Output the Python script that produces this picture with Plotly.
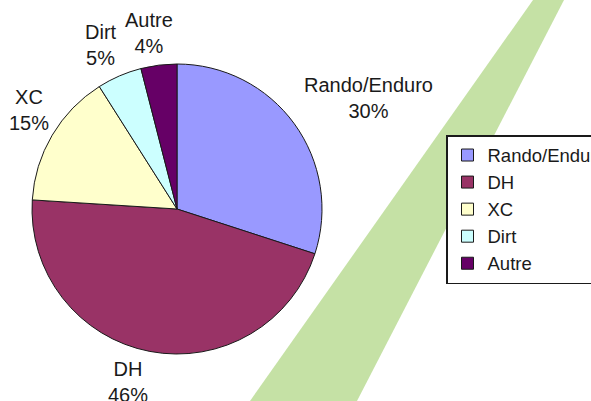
import math
import plotly.graph_objects as go

labels = ["Rando/Enduro", "DH", "XC", "Dirt", "Autre"]
values = [30, 46, 15, 5, 4]
colors = ["#9999FF", "#993366", "#FFFFCC", "#CCFFFF", "#660066"]

W, H = 591, 401
cx, cy, R = 177, 209, 145
FONT = "Liberation Sans, Arial, sans-serif"
TXT = "#1a1a1a"

fig = go.Figure()
fig.add_trace(go.Pie(
    labels=labels, values=values, sort=False, direction="clockwise", rotation=0,
    marker=dict(colors=colors, line=dict(color="#1a1a1a", width=1)),
    textinfo="none", hoverinfo="label+percent",
    domain=dict(x=[(cx - R) / W, (cx + R) / W], y=[(H - cy - R) / H, (H - cy + R) / H]),
))

# outside labels positioned from each slice's mid-angle
total = sum(values)
cum = 0
annotations = []
for lab, v in zip(labels, values):
    mid = (cum + v / 2) / total * 2 * math.pi
    cum += v
    dx, dy = math.sin(mid), -math.cos(mid)
    r = R + 14
    px, py = cx + r * dx, cy + r * dy
    xa = "left" if dx > 0.15 else ("right" if dx < -0.15 else "center")
    ya = "top" if dy > 0.3 else ("bottom" if dy < -0.3 else "middle")
    if xa == "right":
        xs = 5 + 12 * (abs(dx) - 0.4)
    elif xa == "center":
        xs = -8
    else:
        xs = -4
    ys = -8 if ya == "bottom" else (9 if ya == "top" else 0)
    annotations.append(dict(
        x=px / W, y=(H - py) / H, xref="paper", yref="paper",
        text=f"{lab}<br>{round(v / total * 100)}%", showarrow=False,
        xanchor=xa, yanchor=ya, align="center", xshift=xs, yshift=ys,
        font=dict(family=FONT, size=20, color=TXT),
    ))

# green diagonal band in background
band = [(533, 0), (564, 0), (357, 401), (250, 401)]
path = "M " + " L ".join(f"{x / W},{(H - y) / H}" for x, y in band) + " Z"

fig.update_layout(
    width=W, height=H,
    margin=dict(l=0, r=0, t=0, b=0, autoexpand=False),
    paper_bgcolor="white", plot_bgcolor="white",
    showlegend=True,
    legend=dict(
        x=446 / W, y=(H - 135) / H, xanchor="left", yanchor="top",
        xref="container", yref="container",
        bgcolor="white", bordercolor="#1a1a1a", borderwidth=1.5,
        font=dict(family=FONT, size=18.5, color=TXT),
        itemwidth=30, tracegroupgap=0,
    ),
    shapes=[dict(type="path", path=path, xref="paper", yref="paper",
                 fillcolor="#C5E1A5", line=dict(width=0), layer="below")],
    annotations=annotations,
)

fig.write_html(
    "out.html",
    config={"displayModeBar": False},
    post_script="document.body.style.margin='0';document.body.style.overflow='hidden';",
)
